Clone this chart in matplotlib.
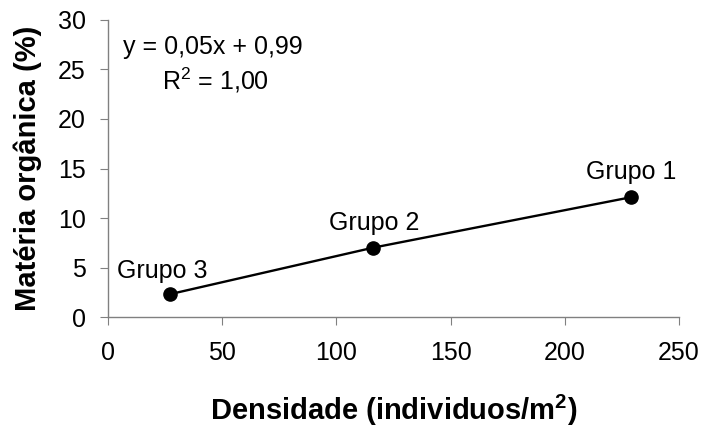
import matplotlib
matplotlib.use("Agg")
import matplotlib.pyplot as plt

# values
densidade = [27, 116, 229]
materia = [2.3, 7.0, 12.1]
grupos = ["Grupo 3", "Grupo 2", "Grupo 1"]
xticks = [0, 50, 100, 150, 200, 250]
yticks = [0, 5, 10, 15, 20, 25, 30]

plt.rcParams["font.family"] = ["Liberation Sans", "DejaVu Sans"]
plt.rcParams["mathtext.fontset"] = "custom"
plt.rcParams["mathtext.rm"] = "Liberation Sans"
plt.rcParams["mathtext.bf"] = "Liberation Sans:bold"

fig = plt.figure(figsize=(7.04, 4.28), dpi=100)
ax = fig.add_axes([0.1534, 0.2593, 0.8111, 0.694])

ax.plot(densidade, materia, color="black", lw=1.7, marker="o", ms=9.5, zorder=3)

offsets = [(-5.5, 16.5), (1, 18), (0, 18)]
for x, y, name, off in zip(densidade, materia, grupos, offsets):
    ax.annotate(name, (x, y), xytext=off, textcoords="offset points",
                ha="center", va="center", fontsize=18)

ax.text(0.026, 0.909, "y = 0,05x + 0,99", transform=ax.transAxes,
        fontsize=18, ha="left", va="center")
ax.text(0.189, 0.798, "R$^2$ = 1,00", transform=ax.transAxes,
        fontsize=18, ha="center", va="center")

ax.set_xlim(0, 250)
ax.set_ylim(0, 30)
ax.set_xticks(xticks)
ax.set_yticks(yticks)
ax.tick_params(labelsize=18, color="#808080", length=6, direction="out")
ax.tick_params(axis="x", pad=11)
ax.tick_params(axis="y", pad=10)
for s in ["top", "right"]:
    ax.spines[s].set_visible(False)
for s in ["left", "bottom"]:
    ax.spines[s].set_color("#808080")
    ax.spines[s].set_linewidth(1)

ax.set_xlabel("Densidade (individuos/m$^\\mathbf{2}$)", fontsize=21,
              fontweight="bold", va="center")
ax.set_ylabel("Matéria orgânica (%)", fontsize=21, fontweight="bold",
              va="center")
ax.xaxis.set_label_coords(0.5, -0.313)
ax.yaxis.set_label_coords(-0.140, 0.5)

fig.savefig("out.png", dpi=100)
